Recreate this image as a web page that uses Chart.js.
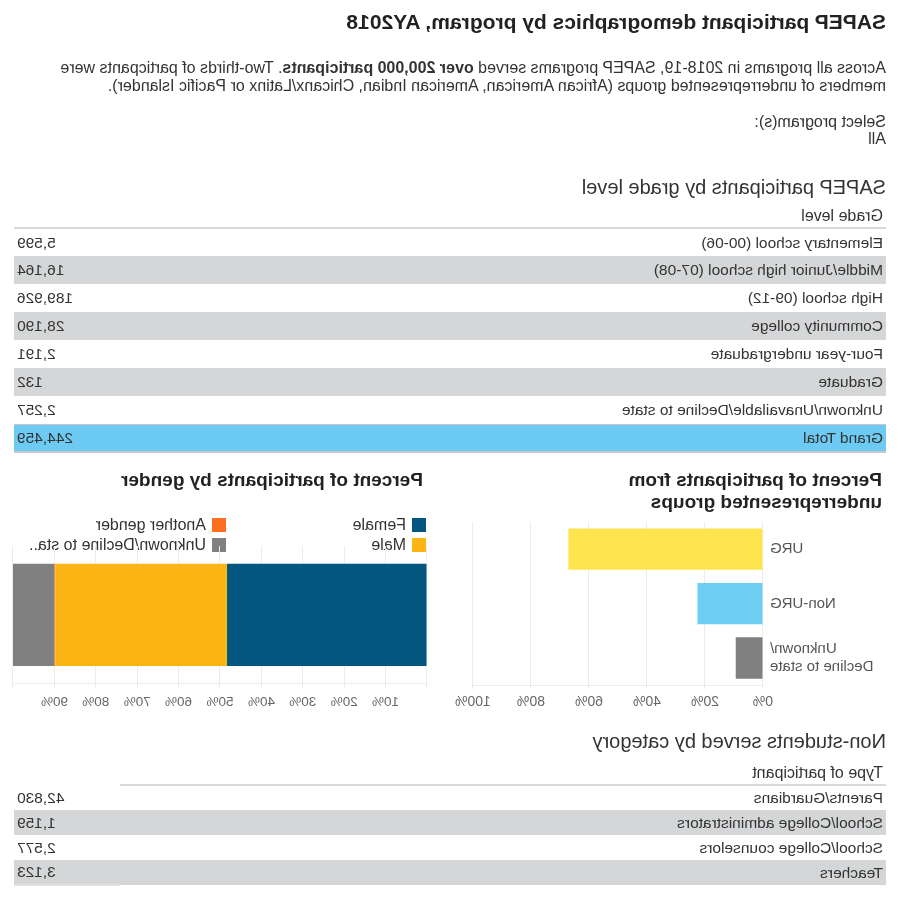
<!DOCTYPE html>
<html>
<head>
<meta charset="utf-8">
<script src="https://cdn.jsdelivr.net/npm/chart.js@4/dist/chart.umd.min.js"></script>
<style>
  html, body { margin: 0; padding: 0; background: #fff; }
  body {
    width: 900px; height: 900px; position: relative; overflow: hidden;
    font-family: "Liberation Sans", Arial, sans-serif; color: #333;
    transform: scaleX(-1); transform-origin: center;
  }
  .abs { position: absolute; }
  #title { left: 14px; top: 10px; font-size: 21px; line-height: 24px; font-weight: bold; color: #222; }
  #desc { left: 14px; top: 59px; font-size: 16px; line-height: 18px; color: #333; white-space: nowrap; }
  #select { left: 14px; top: 113px; font-size: 16px; line-height: 17px; color: #333; }
  .tblTitle { left: 14px; font-size: 20px; line-height: 24px; color: #333; }
  table { border-collapse: collapse; font-size: 15.5px; color: #333; }
  table td { padding: 0 3px; }
  table tr.hd td { font-size: 16px; vertical-align: bottom; padding-bottom: 2px; }
  .chartTitle { font-size: 19px; font-weight: bold; color: #222; line-height: 22px; }
  .legend { left: 474px; top: 518px; width: 420px; font-size: 16px; color: #333; }
  .legend div { position: absolute; height: 14px; line-height: 14px; white-space: nowrap; }
  .legend span.sw { display: inline-block; width: 14px; height: 14px; vertical-align: top; margin-right: 6px; }
</style>
</head>
<body>
<div id="title" class="abs">SAPEP participant demographics by program, AY2018</div>
<div id="desc" class="abs">Across all programs in 2018-19, SAPEP programs served <b>over 200,000 participants</b>. Two-thirds of particpants were<br>members of underrepresented groups (African American, American Indian, Chicanx/Latinx or Pacific Islander).</div>
<div id="select" class="abs">Select program(s):<br>All</div>

<div class="abs tblTitle" style="top:175px">SAPEP participants by grade level</div>
<table id="gradeTable" class="abs" style="left:14px; top:205px; width:872px"></table>

<div class="abs chartTitle" style="left:18px; top:469px">Percent of participants from<br>underrepresented groups</div>
<div class="abs" style="left:0; top:515px; width:450px; height:207px"><canvas id="urgChart"></canvas></div>

<div class="abs chartTitle" style="left:477px; top:469px">Percent of participants by gender</div>
<div id="genderLegend" class="abs legend"></div>
<div class="abs" style="left:460px; top:540px; width:440px; height:182px"><canvas id="genderChart"></canvas></div>

<div class="abs tblTitle" style="top:729px">Non-students served by category</div>
<table id="nonTable" class="abs" style="left:14px; top:762px; width:872px"></table>

<script>
// grade level table
var gradeLabels = [
  'Elementary school (00-06)',
  'Middle/Junior high school (07-08)',
  'High school (09-12)',
  'Community college',
  'Four-year undergraduate',
  'Graduate',
  'Unknown/Unavailable/Decline to state'
];
var gradeValues = [5599, 16164, 189926, 28190, 2191, 132, 2257];
var gradeTotal = 244459;

// non-students table
var nonLabels = [
  'Parents/Guardians',
  'School/College administrators',
  'School/College counselors',
  'Teachers'
];
var nonValues = [42830, 1159, 2577, 3123];

// urg chart (percent)
var urgLabels = ['URG', 'Non-URG', ['Unknown/', 'Decline to state']];
var urgValues = [67.1, 22.6, 9.4];
var urgTicks = [0, 20, 40, 60, 80, 100];

// gender chart (percent)
var genderLabels = ['Female', 'Male', 'Another gender', 'Unknown/Decline to state'];
var genderValues = [48.3, 41.5, 0.2, 10.0];
var genderTicks = [10, 20, 30, 40, 50, 60, 70, 80, 90];

var urgColors = ['#fee54f', '#6dcdf3', '#808080'];
var genderColors = ['#03567f', '#fdb515', '#fd6e1f', '#808080'];

function fmt(n) {
  return n.toLocaleString('en-US');
}

function buildTable(id, header, labels, values, total, rowH, valW) {
  var t = document.getElementById(id);
  var line = '2px solid #d9d9d9';
  var html = '<tr class="hd" style="height:23px"><td style="border-bottom:' + line + '">' + header + '</td>' +
    '<td style="width:' + valW + 'px;' + (total != null ? 'border-bottom:' + line : '') + '"></td></tr>';
  for (var i = 0; i < labels.length; i++) {
    var bg = (i % 2 == 1) ? '#d4d6d7' : '#fff';
    html += '<tr style="height:' + rowH + 'px;background:' + bg + '"><td>' + labels[i] + '</td><td style="text-align:right">' + fmt(values[i]) + '</td></tr>';
  }
  if (total != null) {
    html += '<tr style="height:' + rowH + 'px;background:#6dcbf3;border-top:1px solid #c8c8c8;border-bottom:2px solid #c8c8c8"><td>Grand Total</td><td style="text-align:right">' + fmt(total) + '</td></tr>';
  } else {
    html += '<tr style="height:0"><td></td><td style="border-top:2px solid #e0e0e0"></td></tr>';
  }
  t.innerHTML = html;
}

buildTable('gradeTable', 'Grade level', gradeLabels, gradeValues, gradeTotal, 28, 120);
buildTable('nonTable', 'Type of participant', nonLabels, nonValues, null, 25, 100);

var gridColor = '#ececec';
var fontFam = '"Liberation Sans", Arial, sans-serif';

new Chart(document.getElementById('urgChart'), {
  type: 'bar',
  data: {
    labels: urgLabels,
    datasets: [{
      data: urgValues,
      backgroundColor: urgColors,
      barPercentage: 0.76,
      categoryPercentage: 1
    }]
  },
  options: {
    indexAxis: 'y',
    responsive: true,
    maintainAspectRatio: false,
    animation: false,
    layout: { padding: { top: 7, right: 16, bottom: 6, left: 0 } },
    plugins: { legend: { display: false }, tooltip: { enabled: false } },
    scales: {
      x: {
        min: 0, max: 100,
        afterBuildTicks: function (scale) {
          scale.ticks = urgTicks.map(function (v) { return { value: v }; });
        },
        ticks: { color: '#666', font: { family: fontFam, size: 14 }, padding: 5, maxRotation: 0,
          callback: function (v) { return v + '%'; } },
        grid: { color: gridColor, tickLength: 4 },
        border: { color: gridColor }
      },
      y: {
        afterFit: function (scale) {
          scale.width = 137;
          scale.paddingTop = 0;
          scale.paddingBottom = 0;
        },
        ticks: { color: '#555', font: { family: fontFam, size: 15 }, padding: 7 },
        grid: { display: false, drawTicks: false },
        border: { color: gridColor }
      }
    }
  }
});

var genderSets = [];
for (var i = 0; i < genderLabels.length; i++) {
  genderSets.push({
    label: genderLabels[i],
    data: [genderValues[i]],
    backgroundColor: genderColors[i],
    barPercentage: 0.743,
    categoryPercentage: 1
  });
}

new Chart(document.getElementById('genderChart'), {
  type: 'bar',
  data: { labels: [''], datasets: genderSets },
  options: {
    indexAxis: 'y',
    responsive: true,
    maintainAspectRatio: false,
    animation: false,
    layout: { padding: { top: 6, right: 13, bottom: 6, left: 13 } },
    plugins: { legend: { display: false }, tooltip: { enabled: false } },
    scales: {
      x: {
        stacked: true, min: 0, max: 100,
        afterBuildTicks: function (scale) {
          scale.ticks = [0].concat(genderTicks, [100]).map(function (v) { return { value: v }; });
        },
        ticks: { color: '#666', font: { family: fontFam, size: 13.5 }, padding: 6, maxRotation: 0,
          callback: function (v) { return genderTicks.indexOf(v) >= 0 ? v + '%' : ''; } },
        grid: { color: gridColor, tickLength: 4 },
        border: { color: gridColor }
      },
      y: { stacked: true, display: false }
    }
  }
});

// legend in two columns: Female / Male, Another gender / Unknown
var leg = document.getElementById('genderLegend');
var legPos = [[0, 0], [0, 20], [200, 0], [200, 20]];
var legText = ['Female', 'Male', 'Another gender', 'Unknown/Decline to sta..'];
for (var i = 0; i < genderLabels.length; i++) {
  var d = document.createElement('div');
  d.style.left = legPos[i][0] + 'px';
  d.style.top = legPos[i][1] + 'px';
  d.innerHTML = '<span class="sw" style="background:' + genderColors[i] + '"></span>' + legText[i];
  leg.appendChild(d);
}
</script>
</body>
</html>
